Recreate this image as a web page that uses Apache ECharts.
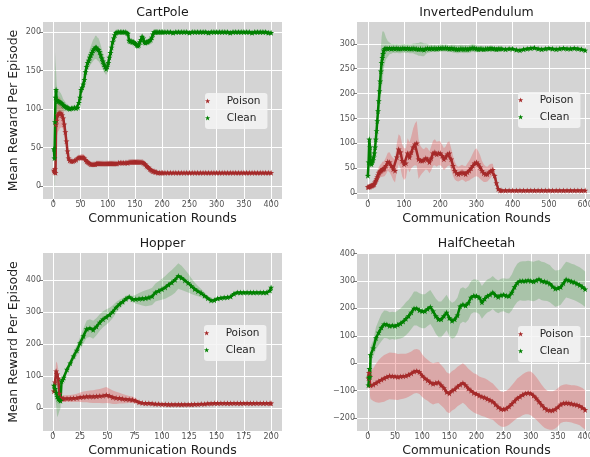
<!DOCTYPE html>
<html><head><meta charset="utf-8">
<script src="https://cdn.jsdelivr.net/npm/echarts@6/dist/echarts.min.js"></script>
<style>html,body{margin:0;padding:0;background:#fff}#c{width:590px;height:457px}</style>
</head><body><div id="c"></div>
<script>
// ---------------- CartPole ----------------
const cpX = [1,2,3,4,5,6,8,10,12,14,16,18,20,22,24,26,28,30,
  33,36,39,42,45,
  47,49,51,53,55,57,59,61,63,65,67,69,71,73,75,77,79,81,83,85,87,89,91,93,95,97,99,101,103,105,107,109,111,113,115,117,
  120,123,126,129,132,135,
  137,139,141,143,145,147,149,151,153,155,157,159,161,163,165,167,169,171,173,175,177,179,181,183,185,187,189,
  192,195,198,201,
  205,210,215,220,225,230,235,240,245,250,255,260,265,270,275,280,285,290,295,300,305,310,315,320,325,330,335,340,345,350,355,360,365,370,375,380,385,390,395,400];
const cpClean = [48,36,83,115,125,112,110,110,109,108,107,105,104,103,102,102,101,100,
  101,101,102,101,102,
  108,115,125,128,132,138,148,155,160,163,167,170,173,176,178,180,180,178,177,174,170,166,162,158,155,152,155,160,167,173,180,187,192,196,199,200,
  200,200,200,200,200,199,
  198,189,188,188,187,187,186,185,183,182,183,187,190,194,192,187,186,187,187,188,189,190,193,197,200,200,200,
  200,200,200,200,
  200,200,200,199,200,200,200,200,200,199,200,200,200,200,200,200,199,200,200,200,200,200,200,200,199,200,200,200,200,200,200,200,199,200,200,200,200,200,199,199];
const cpCleanSd = [3,20,92,45,25,20,15,14,13,12,10,8,7,6,5,4,4,3,
  3,3,3,3,3,
  4,5,5,6,6,7,8,9,9,10,11,12,13,14,14,15,15,15,15,14,13,12,11,10,9,8,8,8,7,7,6,5,4,3,2,2,
  2,2,2,2,2,2,
  3,4,4,4,4,4,4,4,4,4,4,4,4,4,4,4,4,3,3,3,3,3,3,3,3,3,3,
  3,3,3,3,
  3,3,3,3,3,3,3,3,3,3,3,3,3,3,3,3,3,3,3,3,3,3,3,3,3,3,3,3,3,3,3,3,3,3,3,3,3,3,3,3];
const cpPoison = [20,18,22,17,80,85,92,94,95,94,92,88,80,70,58,45,36,33,
  32,32,33,34,36,
  37,37,37,37,37,36,34,32,31,30,29,28,28,28,28,28,29,29,29,29,29,29,29,29,29,29,29,29,29,29,29,29,29,29,29,29,
  30,30,30,30,30,30,
  30,31,31,31,31,31,31,31,31,31,31,31,31,31,30,29,28,26,25,24,22,21,20,19,19,18,18,
  17,17,17,17,
  17,17,17,17,17,17,17,17,17,17,17,17,17,17,17,17,17,17,17,17,17,17,17,17,17,17,17,17,17,17,17,17,17,17,17,17,17,17,17,17];
const cpPoisonSd = [3,3,4,5,20,22,22,22,20,18,16,14,12,10,8,6,4,3,
  2,2,2,2,3,
  3,3,4,4,4,4,3,3,2,2,2,2,2,2,2,2,2,2,2,2,2,2,2,2,2,2,2,2,2,2,2,2,2,2,2,2,
  2,2,2,2,2,2,
  2,2,2,2,2,2,2,2,2,2,2,2,2,2,2,2,2,2,2,2,2,2,2,2,2,2,2,
  2,2,1,1,
  1,1,1,1,1,1,1,1,1,1,1,1,1,1,1,1,1,1,1,1,1,1,1,1,1,1,1,1,1,1,1,1,1,1,1,1,1,1,1,1];
const cpXTicks = [0,50,100,150,200,250,300,350,400];
const cpXLabels = ['0','50','100','150','200','250','300','350','400'];
const cpYTicks = [0,50,100,150,200];
const cpYLabels = ['0','50','100','150','200'];

// ---------------- InvertedPendulum ----------------
const ipX = [0,2,4,6,8,10,12,14,16,18,20,22,24,26,28,30,32,34,36,38,40,42,44,46,
  50,55,60,65,70,75,80,85,90,95,100,105,110,115,120,125,130,135,140,145,150,155,160,165,170,175,180,185,190,195,
  200,205,210,215,220,225,230,235,240,245,250,255,260,265,270,275,280,285,290,295,300,305,310,315,320,325,330,335,340,345,350,355,360,365,
  370,380,390,400,410,420,430,440,450,460,470,480,490,500,510,520,530,540,550,560,570,580,590,600];
const ipClean = [35,62,108,92,60,58,62,66,72,80,92,108,125,145,165,185,205,225,245,262,272,280,287,290,
  291,290,291,290,291,290,291,290,290,291,291,290,291,290,290,291,290,290,289,290,289,288,290,291,290,291,290,291,290,291,
  291,292,291,292,291,290,291,290,290,289,289,290,290,289,290,289,290,291,292,291,290,289,290,290,289,290,290,290,291,290,290,289,290,290,
  290,289,290,290,288,287,289,290,291,292,290,289,290,291,290,289,290,291,290,290,291,290,289,287];
const ipCleanSd = [3,8,45,15,8,6,6,7,8,9,11,13,16,20,25,30,34,40,48,52,53,45,38,32,
  22,16,12,10,9,9,9,9,9,9,9,9,9,9,9,10,11,12,13,14,14,13,11,9,8,7,7,7,7,7,
  7,7,7,7,7,7,7,8,8,8,8,8,8,8,8,8,8,8,8,8,7,6,5,5,5,5,5,5,5,4,4,4,4,4,
  3,3,3,3,3,3,3,3,3,3,3,3,3,3,3,3,3,3,3,3,3,3,3,3];
const ipPoison = [12,12,13,13,14,15,15,16,17,18,22,25,28,32,36,40,42,44,45,46,48,48,49,50,
  55,63,62,55,48,45,72,88,82,65,58,60,80,72,82,92,98,100,68,65,65,66,70,68,62,70,80,82,78,80,
  80,75,68,72,78,80,68,55,45,40,38,40,42,40,38,42,45,50,55,60,62,58,52,45,40,38,38,42,45,47,35,20,8,5,
  5,5,5,5,5,5,5,5,5,5,5,5,5,5,5,5,5,5,5,5,5,5,5,5];
const ipPoisonSd = [3,3,3,3,4,4,4,5,5,6,7,8,9,10,11,12,12,13,13,14,15,15,15,16,
  17,18,20,20,22,24,28,30,32,32,32,30,30,30,32,38,42,45,40,30,25,22,22,22,22,24,25,26,25,24,
  24,22,22,22,24,24,22,20,18,16,15,15,15,15,16,18,20,22,25,27,28,26,24,20,18,16,15,15,14,12,10,6,3,1,
  1,1,1,1,1,1,1,1,1,1,1,1,1,1,1,1,1,1,1,1,1,1,1,1];
const ipXTicks = [0,100,200,300,400,500,600];
const ipXLabels = ['0','100','200','300','400','500','600'];
const ipYTicks = [0,50,100,150,200,250,300];
const ipYLabels = ['0','50','100','150','200','250','300'];

// ---------------- Hopper ----------------
const hpX = [1,2,3,4,5,6,7,8,9,
  10,13,16,19,22,25,28,31,34,37,40,43,46,49,52,55,58,61,64,67,70,73,76,79,82,85,88,91,94,97,
  100,103,106,109,112,115,118,121,124,127,130,133,136,139,142,145,148,151,154,157,160,163,166,169,172,175,178,181,184,187,190,193,196,199,
  200];
const hpClean = [70,60,48,35,28,25,22,83,88,
  95,120,140,162,180,203,225,247,250,245,255,268,278,285,292,302,315,325,333,342,348,341,341,342,343,344,346,350,362,367,
  372,378,386,393,402,414,408,400,392,382,373,366,360,352,344,337,338,343,345,346,347,349,358,362,362,362,362,362,362,362,362,362,362,368,
  378];
const hpCleanSd = [5,15,40,65,50,35,25,8,8,
  8,10,12,14,17,20,24,27,28,28,27,26,25,24,22,20,17,14,12,10,8,10,14,18,22,25,26,27,28,30,
  33,36,38,40,41,40,38,34,30,25,20,16,13,10,8,6,5,4,4,4,4,4,4,3,3,3,3,3,3,3,3,3,3,3,
  3];
const hpPoison = [52,80,115,105,92,45,30,28,28,
  29,29,29,30,31,33,34,35,35,35,36,37,38,40,37,33,31,30,28,27,26,25,22,17,15,14,14,13,12,12,
  11,11,10,10,10,10,10,10,10,10,11,11,12,12,13,13,14,14,14,14,14,14,14,14,14,14,14,14,14,14,14,14,14,14,
  14];
const hpPoisonSd = [5,15,30,35,30,20,12,10,10,
  10,10,11,12,13,15,17,18,19,20,21,22,24,25,23,21,19,17,15,13,11,10,8,6,4,3,3,3,3,3,
  3,3,3,3,3,3,3,3,3,3,3,3,3,3,3,3,3,3,3,3,3,3,3,3,3,3,3,3,3,3,3,3,3,3,
  3];
const hpXTicks = [0,25,50,75,100,125,150,175,200];
const hpXLabels = ['0','25','50','75','100','125','150','175','200'];
const hpYTicks = [0,100,200,300,400];
const hpYLabels = ['0','100','200','300','400'];

// ---------------- HalfCheetah ----------------
const hcX = [1,2,3,4,5,
  10,15,20,25,30,35,40,45,50,55,60,65,70,75,80,85,90,95,100,105,110,115,120,125,130,135,140,145,150,155,160,165,170,175,180,185,190,195,200,
  205,210,215,220,225,230,235,240,245,250,255,260,265,270,275,280,285,290,295,300,305,310,315,320,325,330,335,340,345,350,355,360,365,370,375,380,385,390,395,400];
const hcClean = [-80,-52,-20,-50,30,
  55,92,112,130,142,141,136,138,136,
  140,145,152,162,172,185,200,200,193,190,
  190,198,205,190,172,160,160,172,185,165,
  155,160,175,208,214,210,220,240,246,245,
  240,222,235,245,250,258,248,242,248,250,
  246,245,258,278,293,300,300,300,302,300,
  298,302,306,300,298,295,290,280,272,274,
  278,292,305,302,298,295,290,285,278,270];
const hcCleanSd = [10,20,30,30,30,
  30,40,45,50,50,50,50,50,50,
  52,55,58,60,60,60,62,62,62,62,
  62,62,62,62,64,65,65,65,65,66,
  66,66,65,64,63,62,61,60,60,60,
  60,60,60,60,60,60,60,60,60,60,
  62,64,66,68,70,70,72,72,72,72,
  72,72,70,70,70,68,68,66,66,65,
  65,65,65,65,65,65,65,65,65,65];
const hcPoison = [-55,-35,-45,-80,-80,
  -78,-72,-66,-60,-55,-50,-46,-47,-48,
  -50,-48,-47,-46,-42,-37,-30,-28,-32,-45,
  -55,-62,-70,-75,-72,-70,-80,-90,-105,-110,
  -100,-95,-85,-78,-72,-80,-92,-100,-108,-112,
  -118,-122,-125,-130,-135,-140,-150,-160,-167,-168,
  -165,-158,-148,-138,-128,-122,-115,-110,-108,-110,
  -118,-128,-140,-152,-163,-170,-172,-172,-168,-160,
  -150,-146,-145,-146,-148,-150,-152,-156,-162,-170];
const hcPoisonSd = [10,20,30,40,50,
  60,70,78,82,85,85,85,85,85,
  84,83,82,81,80,80,80,80,80,78,
  76,75,75,75,75,75,74,73,72,72,
  72,72,72,72,72,72,72,72,72,72,
  70,70,70,70,68,66,65,64,64,64,
  65,66,68,70,72,74,75,76,78,80,
  80,78,76,74,72,70,70,70,70,70,
  68,68,68,68,68,70,70,70,72,72];
const hcXTicks = [0,50,100,150,200,250,300,350,400];
const hcXLabels = ['0','50','100','150','200','250','300','350','400'];
const hcYTicks = [-200,-100,0,100,200,300,400];
const hcYLabels = ['\u2212200','\u2212100','0','100','200','300','400'];

const panelTitles = ['CartPole','InvertedPendulum','Hopper','HalfCheetah'];
const seriesNames = ['Poison','Clean'];
const xAxisTitle = 'Communication Rounds';
const yAxisTitle = 'Mean Reward Per Episode';

// ---------------- styling / layout ----------------
const FONT = 'DejaVu Sans';
const STAR = 'path://M0,-10L2.35,-3.24L9.51,-3.09L3.8,1.24L5.88,8.09L0,4L-5.88,8.09L-3.8,1.24L-9.51,-3.09L-2.35,-3.24Z';
const POISON_C = '#a52a2a', CLEAN_C = '#008000';
const POISON_BAND = 'rgba(232,80,80,0.33)', CLEAN_BAND = 'rgba(0,128,0,0.2)';

const panels = [
  {x:cpX, clean:cpClean, cleanSd:cpCleanSd, poison:cpPoison, poisonSd:cpPoisonSd,
   xr:[-19,420], yr:[-17,213], xt:cpXTicks, xl:cpXLabels, yt:cpYTicks, yl:cpYLabels,
   grid:{left:43, top:22, width:239, height:177}, ylab:true, leg:{left:205, top:93}},
  {x:ipX, clean:ipClean, cleanSd:ipCleanSd, poison:ipPoison, poisonSd:ipPoisonSd,
   xr:[-30,630], yr:[-12,344], xt:ipXTicks, xl:ipXLabels, yt:ipYTicks, yl:ipYLabels,
   grid:{left:357, top:22, width:239, height:177}, ylab:false, leg:{left:518, top:92}},
  {x:hpX, clean:hpClean, cleanSd:hpCleanSd, poison:hpPoison, poisonSd:hpPoisonSd,
   xr:[-9,210], yr:[-73,486], xt:hpXTicks, xl:hpXLabels, yt:hpYTicks, yl:hpYLabels,
   grid:{left:43, top:253, width:239, height:178}, ylab:true, leg:{left:204, top:325}},
  {x:hcX, clean:hcClean, cleanSd:hcCleanSd, poison:hcPoison, poisonSd:hcPoisonSd,
   xr:[-20,420], yr:[-247,402], xt:hcXTicks, xl:hcXLabels, yt:hcYTicks, yl:hcYLabels,
   grid:{left:357, top:253, width:239, height:178}, ylab:false, leg:{left:518, top:326}}
];

function bandRender(xs, ys, sd, color) {
  return function (params, api) {
    const pts = [];
    for (let i = 0; i < xs.length; i++) pts.push(api.coord([xs[i], ys[i] + sd[i]]));
    for (let i = xs.length - 1; i >= 0; i--) pts.push(api.coord([xs[i], ys[i] - sd[i]]));
    return {type: 'polygon', shape: {points: pts}, style: {fill: color}, silent: true};
  };
}
function pairs(xs, ys) { return xs.map((x, i) => [x, ys[i]]); }

const grids = [], xAxes = [], yAxes = [], series = [], legends = [], graphics = [];
panels.forEach((p, i) => {
  grids.push(Object.assign({show: true, backgroundColor: '#d4d4d4', borderWidth: 0, outerBoundsMode: 'none', containLabel: false}, p.grid));
  const tickStyle = {show: true, length: 3.5, inside: false, lineStyle: {color: '#555', width: 0.8}};
  xAxes.push({
    gridIndex: i, type: 'value', min: p.xr[0], max: p.xr[1],
    axisLine: {show: false, onZero: false},
    axisTick: Object.assign({customValues: p.xt}, tickStyle),
    axisLabel: {customValues: p.xt, formatter: v => p.xl[p.xt.indexOf(v)], fontSize: 8, color: '#555', margin: 2, fontFamily: FONT},
    splitLine: {show: true, lineStyle: {color: '#ffffff', width: 1}},
    name: xAxisTitle, nameLocation: 'middle', nameGap: 13, nameMoveOverlap: false,
    nameTextStyle: {fontSize: 12.5, color: '#222', fontFamily: FONT}
  });
  const ya = {
    gridIndex: i, type: 'value', min: p.yr[0], max: p.yr[1],
    axisLine: {show: false, onZero: false},
    axisTick: Object.assign({customValues: p.yt}, tickStyle),
    axisLabel: {customValues: p.yt, formatter: v => p.yl[p.yt.indexOf(v)], fontSize: 8, color: '#555', margin: 2, fontFamily: FONT},
    splitLine: {show: true, lineStyle: {color: '#ffffff', width: 1}}
  };
  if (p.ylab) Object.assign(ya, {name: yAxisTitle, nameLocation: 'middle', nameGap: 23, nameMoveOverlap: false,
    nameTextStyle: {fontSize: 12.5, color: '#222', fontFamily: FONT}});
  yAxes.push(ya);

  series.push({type: 'custom', name: 'band-p' + i, xAxisIndex: i, yAxisIndex: i, silent: true, z: 1, clip: true,
    data: [[p.x[0], p.poison[0]]], renderItem: bandRender(p.x, p.poison, p.poisonSd, POISON_BAND)});
  series.push({type: 'custom', name: 'band-c' + i, xAxisIndex: i, yAxisIndex: i, silent: true, z: 1, clip: true,
    data: [[p.x[0], p.clean[0]]], renderItem: bandRender(p.x, p.clean, p.cleanSd, CLEAN_BAND)});
  series.push({type: 'line', name: seriesNames[0], xAxisIndex: i, yAxisIndex: i, z: 3,
    data: pairs(p.x, p.poison), symbol: STAR, symbolSize: 6, showSymbol: true,
    itemStyle: {color: POISON_C}, lineStyle: {color: POISON_C, width: 2.5}});
  series.push({type: 'line', name: seriesNames[1], xAxisIndex: i, yAxisIndex: i, z: 3,
    data: pairs(p.x, p.clean), symbol: STAR, symbolSize: 6, showSymbol: true,
    itemStyle: {color: CLEAN_C}, lineStyle: {color: CLEAN_C, width: 2.5}});

  legends.push({
    left: p.leg.left, top: p.leg.top, orient: 'vertical',
    data: seriesNames.map(n => ({name: n, icon: STAR})),
    itemWidth: 28, itemHeight: 5, itemGap: 5, padding: [2, 7, 5, 0],
    backgroundColor: 'rgba(244,244,244,0.85)', borderRadius: 3, borderWidth: 0,
    selectedMode: false,
    textStyle: {fontSize: 10.5, color: '#262626', fontFamily: FONT, lineHeight: 12}
  });

  const cx = p.grid.left + p.grid.width / 2;
  graphics.push({type: 'text', x: cx, y: p.grid.top - 9, z: 10,
    style: {text: panelTitles[i], fontSize: 12.5, fontFamily: FONT, fill: '#1a1a1a', align: 'center', verticalAlign: 'middle'}});
});

const chart = echarts.init(document.getElementById('c'), null, {renderer: 'canvas'});
chart.setOption({
  animation: false,
  backgroundColor: '#ffffff',
  grid: grids, xAxis: xAxes, yAxis: yAxes, series: series, legend: legends, graphic: graphics
});
</script></body></html>
